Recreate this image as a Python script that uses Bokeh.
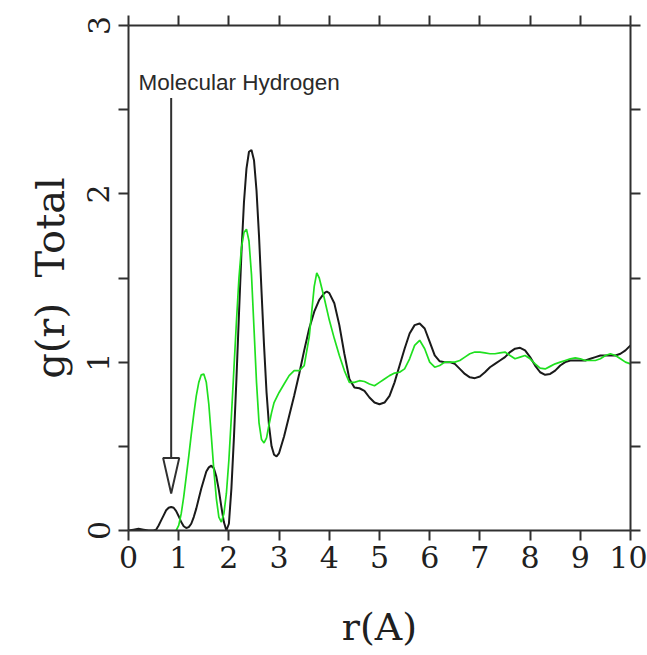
from bokeh.plotting import figure
from bokeh.models import LinearAxis, FixedTicker, Label, CustomJSTickFormatter
from bokeh.embed import file_html
from bokeh.resources import INLINE

# ---- data ----
black_r = [0.0, 0.1, 0.2, 0.3, 0.4, 0.5, 0.55, 0.6, 0.65, 0.7, 0.75, 0.8, 0.85, 0.9, 0.95,
           1.0, 1.05, 1.1, 1.15, 1.2, 1.25, 1.3, 1.35, 1.4, 1.45, 1.5, 1.55, 1.6, 1.65, 1.7,
           1.75, 1.8, 1.85, 1.9, 1.95, 2.0, 2.05, 2.1, 2.15, 2.2, 2.25, 2.3, 2.35, 2.4, 2.45,
           2.5, 2.55, 2.6, 2.65, 2.7, 2.75, 2.8, 2.85, 2.9, 2.95, 3.0, 3.1, 3.2, 3.3, 3.4,
           3.5, 3.6, 3.7, 3.8, 3.9, 3.95, 4.0, 4.1, 4.2, 4.3, 4.4, 4.5, 4.6, 4.7, 4.8, 4.9,
           5.0, 5.1, 5.2, 5.3, 5.4, 5.5, 5.6, 5.7, 5.8, 5.9, 6.0, 6.1, 6.2, 6.3, 6.4, 6.5,
           6.6, 6.7, 6.8, 6.9, 7.0, 7.1, 7.2, 7.3, 7.4, 7.5, 7.6, 7.7, 7.8, 7.9, 8.0, 8.1,
           8.2, 8.3, 8.4, 8.5, 8.6, 8.7, 8.8, 8.9, 9.0, 9.1, 9.2, 9.3, 9.4, 9.5, 9.6, 9.7,
           9.8, 9.9, 10.0]
black_g = [0.0, 0.005, 0.01, 0.005, 0.0, 0.0, 0.005, 0.03, 0.06, 0.09, 0.12, 0.135, 0.14, 0.135, 0.115,
           0.085, 0.05, 0.025, 0.015, 0.02, 0.04, 0.08, 0.13, 0.19, 0.25, 0.30, 0.35, 0.375, 0.385, 0.37,
           0.32, 0.24, 0.14, 0.05, 0.0, 0.04, 0.25, 0.55, 0.9, 1.28, 1.65, 1.95, 2.15, 2.25, 2.26,
           2.2, 2.02, 1.75, 1.42, 1.1, 0.82, 0.62, 0.5, 0.45, 0.44, 0.46, 0.56, 0.68, 0.8, 0.93,
           1.07, 1.2, 1.3, 1.37, 1.41, 1.42, 1.41, 1.35, 1.22, 1.05, 0.9, 0.85, 0.845, 0.83, 0.79, 0.76,
           0.75, 0.76, 0.8, 0.88, 0.98, 1.08, 1.17, 1.22, 1.23, 1.2, 1.12, 1.04, 1.005, 1.0, 1.0, 0.99,
           0.96, 0.93, 0.91, 0.905, 0.915, 0.94, 0.97, 0.99, 1.01, 1.03, 1.06, 1.08, 1.085, 1.07, 1.03, 0.98,
           0.94, 0.925, 0.93, 0.95, 0.98, 1.0, 1.01, 1.01, 1.01, 1.01, 1.02, 1.03, 1.04, 1.04, 1.04, 1.04,
           1.05, 1.07, 1.1]

green_r = [0.95, 1.0, 1.05, 1.1, 1.15, 1.2, 1.25, 1.3, 1.35, 1.4, 1.45, 1.5, 1.55, 1.6, 1.65,
           1.7, 1.75, 1.8, 1.85, 1.9, 1.95, 2.0, 2.05, 2.1, 2.15, 2.2, 2.25, 2.3, 2.35, 2.4,
           2.45, 2.5, 2.55, 2.6, 2.65, 2.7, 2.75, 2.8, 2.85, 2.9, 3.0, 3.1, 3.2, 3.3, 3.4,
           3.5, 3.6, 3.65, 3.7, 3.75, 3.8, 3.9, 4.0, 4.1, 4.2, 4.3, 4.4, 4.5, 4.6, 4.7,
           4.8, 4.9, 5.0, 5.1, 5.2, 5.3, 5.4, 5.5, 5.6, 5.7, 5.8, 5.9, 6.0, 6.1, 6.2,
           6.3, 6.4, 6.5, 6.6, 6.7, 6.8, 6.9, 7.0, 7.1, 7.2, 7.3, 7.4, 7.5, 7.6, 7.7,
           7.8, 7.9, 8.0, 8.1, 8.2, 8.3, 8.4, 8.5, 8.6, 8.7, 8.8, 8.9, 9.0, 9.1, 9.2,
           9.3, 9.4, 9.5, 9.6, 9.7, 9.8, 9.9, 10.0]
green_g = [0.0, 0.03, 0.1, 0.2, 0.32, 0.44, 0.57, 0.69, 0.8, 0.88, 0.925, 0.93, 0.88, 0.75, 0.56,
           0.36, 0.19, 0.08, 0.05, 0.1, 0.22, 0.42, 0.68, 0.96, 1.24, 1.5, 1.68, 1.77, 1.79, 1.72,
           1.52, 1.2, 0.88, 0.64, 0.54, 0.52, 0.55, 0.63, 0.7, 0.76, 0.82, 0.87, 0.92, 0.95, 0.95,
           0.98, 1.15, 1.3, 1.45, 1.53, 1.5, 1.38, 1.25, 1.14, 1.04, 0.95, 0.88, 0.88, 0.89, 0.885,
           0.87, 0.86, 0.88, 0.9, 0.92, 0.935, 0.94, 0.96, 1.02, 1.1, 1.13, 1.08, 1.0, 0.97, 0.98,
           1.0, 1.0, 1.0, 1.01, 1.03, 1.05, 1.06, 1.06, 1.055, 1.05, 1.05, 1.055, 1.06, 1.04, 1.02,
           1.03, 1.04, 1.02, 0.99, 0.965, 0.96, 0.975, 0.99, 1.0, 1.01, 1.02, 1.025, 1.02, 1.01, 1.01,
           1.01, 1.02, 1.04, 1.05, 1.04, 1.02, 1.0, 0.99]

x_ticks = [0, 1, 2, 3, 4, 5, 6, 7, 8, 9, 10]
y_ticks = [0, 1, 2, 3]
y_minor_ticks = [0.5, 1.5, 2.5]

annotation_text = "Molecular Hydrogen"
annotation_text_x = 0.2
annotation_text_y = 2.66
arrow_x = 0.85
arrow_top = 2.57
arrow_head_base = 0.43
arrow_tip = 0.22
arrow_half_width = 0.16

AXIS_COLOR = "#303030"
SERIF = "DejaVu Serif"

p = figure(width=647, height=655, x_range=(0, 10), y_range=(0, 3),
           output_backend="svg", toolbar_location=None,
           min_border_left=128, min_border_right=17, min_border_top=25, min_border_bottom=125,
           x_axis_label="r(A)", y_axis_label="g(r)\u00a0\u00a0Total")
p.background_fill_color = "white"
p.border_fill_color = "white"
p.outline_line_color = None
p.xgrid.visible = False
p.ygrid.visible = False


def style(ax, ticks, minor, show_labels):
    ax.ticker = FixedTicker(ticks=ticks, minor_ticks=minor)
    ax.axis_line_color = AXIS_COLOR
    ax.axis_line_width = 2
    ax.major_tick_line_color = AXIS_COLOR
    ax.major_tick_line_width = 2
    ax.minor_tick_line_color = AXIS_COLOR
    ax.minor_tick_line_width = 2
    ax.major_tick_in = 0
    ax.major_tick_out = 10
    ax.minor_tick_in = 0
    ax.minor_tick_out = 10
    ax.major_label_text_font = SERIF
    ax.major_label_text_font_size = "30px"
    ax.major_label_text_color = "#202020"
    ax.axis_label_text_font = SERIF
    ax.axis_label_text_font_size = "38px"
    ax.axis_label_text_font_style = "normal"
    ax.axis_label_text_color = "#202020"
    if not show_labels:
        ax.formatter = CustomJSTickFormatter(code="return ''")
        ax.major_label_standoff = 0


xaxis = p.xaxis[0]
yaxis = p.yaxis[0]
style(xaxis, x_ticks, [], True)
style(yaxis, y_ticks, y_minor_ticks, True)
xaxis.major_label_standoff = 5
xaxis.axis_label_standoff = 34
yaxis.major_label_orientation = "vertical"
yaxis.major_label_standoff = 9
yaxis.axis_label_standoff = 12
yaxis.axis_label_text_font_size = "40px"

top = LinearAxis()
style(top, x_ticks, [], False)
p.add_layout(top, "above")
right = LinearAxis()
style(right, y_ticks, y_minor_ticks, False)
p.add_layout(right, "right")

# curves
p.line(black_r, black_g, line_color="#1a1a1a", line_width=2)
p.line(green_r, green_g, line_color="#1fe01f", line_width=1.7)

# annotation arrow
p.segment(x0=[arrow_x], y0=[arrow_top], x1=[arrow_x], y1=[arrow_head_base],
          line_color=AXIS_COLOR, line_width=2)
p.patch([arrow_x - arrow_half_width, arrow_x + arrow_half_width, arrow_x],
        [arrow_head_base, arrow_head_base, arrow_tip],
        fill_color="white", line_color=AXIS_COLOR, line_width=2)
p.add_layout(Label(x=annotation_text_x, y=annotation_text_y, text=annotation_text,
                   text_font="Liberation Sans", text_font_size="22.5px",
                   text_baseline="middle", text_color="#2a2a2a"))

open("out.html", "w").write(file_html(p, INLINE))
